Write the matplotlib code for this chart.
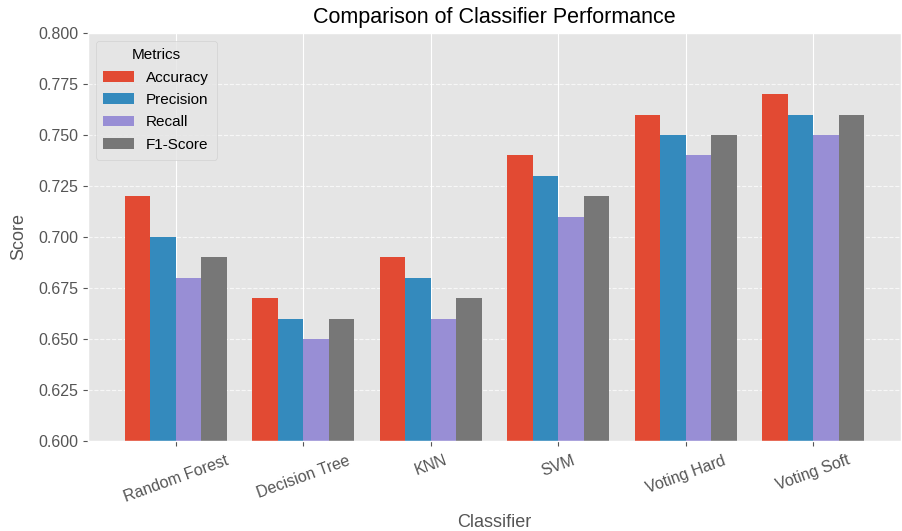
import matplotlib
matplotlib.use("Agg")
import matplotlib.pyplot as plt
import numpy as np

plt.style.use("ggplot")
plt.rcParams['font.family'] = ['Liberation Sans', 'DejaVu Sans']

classifiers = ["Random Forest", "Decision Tree", "KNN", "SVM", "Voting Hard", "Voting Soft"]
accuracy = [0.72, 0.67, 0.69, 0.74, 0.76, 0.77]
precision = [0.70, 0.66, 0.68, 0.73, 0.75, 0.76]
recall = [0.68, 0.65, 0.66, 0.71, 0.74, 0.75]
f1 = [0.69, 0.66, 0.67, 0.72, 0.75, 0.76]
metrics = ["Accuracy", "Precision", "Recall", "F1-Score"]
colors = ["#E24A33", "#348ABD", "#988ED5", "#777777"]

fig = plt.figure(figsize=(9.03, 5.31), dpi=100)
ax = fig.add_axes([88/903, 1-441/531, (901-88)/903, (441-33)/531])

x = np.arange(len(classifiers))
w = 0.2
for i, (vals, name, c) in enumerate(zip([accuracy, precision, recall, f1], metrics, colors)):
    ax.bar(x + (i - 1.5) * w, vals, w, label=name, color=c)

ax.set_ylim(0.6, 0.8)
ax.set_xticks(x)
ax.set_xticklabels(classifiers, rotation=20, fontsize=11.5)
ax.tick_params(axis='y', labelsize=11.5)
ax.tick_params(axis='x', pad=5)
ax.set_xlabel("Classifier", fontsize=13, labelpad=7)
ax.set_ylabel("Score", fontsize=13, labelpad=8)
ax.set_title("Comparison of Classifier Performance", fontsize=15.5, color="black", pad=7)
ax.grid(axis='y', linestyle='--', alpha=0.7)
ax.grid(axis='x', linestyle='-')
ax.legend(title="Metrics", fontsize=11, title_fontsize=11, loc="upper left",
          borderpad=0.5, labelspacing=0.55)

fig.savefig("out.png", dpi=100)
